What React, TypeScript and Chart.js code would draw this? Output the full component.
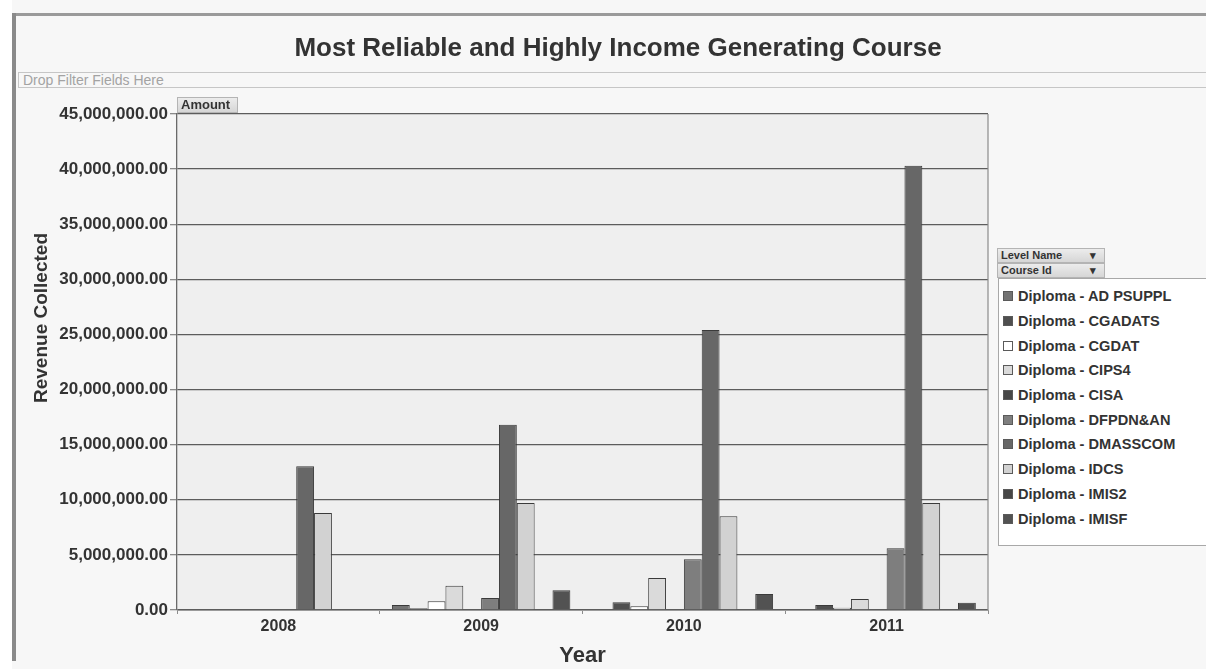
import { useEffect, useRef } from "react";
import { Chart, registerables } from "chart.js";

Chart.register(...registerables);

// Revenue per course and year
const years = ["2008", "2009", "2010", "2011"];
const courses = [
  "Diploma - AD PSUPPL",
  "Diploma - CGADATS",
  "Diploma - CGDAT",
  "Diploma - CIPS4",
  "Diploma - CISA",
  "Diploma - DFPDN&AN",
  "Diploma - DMASSCOM",
  "Diploma - IDCS",
  "Diploma - IMIS2",
  "Diploma - IMISF",
];
const adPsuppl = [0, 450000, 0, 0];
const cgadats = [0, 150000, 700000, 450000];
const cgdat = [0, 800000, 350000, 200000];
const cips4 = [0, 2200000, 2900000, 1000000];
const cisa = [0, 0, 0, 0];
const dfpdnAn = [0, 1100000, 4600000, 5600000];
const dmasscom = [13050000, 16800000, 25400000, 40300000];
const idcs = [8800000, 9700000, 8500000, 9700000];
const imis2 = [0, 0, 0, 0];
const imisf = [0, 1800000, 1450000, 650000];
const seriesValues = [adPsuppl, cgadats, cgdat, cips4, cisa, dfpdnAn, dmasscom, idcs, imis2, imisf];
const courseColors = [
  "#737373", "#4f4f4f", "#ffffff", "#dadada", "#474747",
  "#7e7e7e", "#676767", "#d2d2d2", "#464646", "#525252",
];
const yTicks = [0, 5000000, 10000000, 15000000, 20000000, 25000000, 30000000, 35000000, 40000000, 45000000];

const formatAmount = (v: number) =>
  v.toLocaleString("en-US", { minimumFractionDigits: 2, maximumFractionDigits: 2 });

const FONT = "Arial, 'Liberation Sans', sans-serif";

// Fills the plot area and outlines its right edge
const plotFrame = {
  id: "plotFrame",
  beforeDraw(chart: any) {
    const { ctx, chartArea: a } = chart;
    ctx.save();
    ctx.fillStyle = "#efefef";
    ctx.fillRect(a.left, a.top, a.right - a.left, a.bottom - a.top);
    ctx.restore();
  },
  afterDraw(chart: any) {
    const { ctx, chartArea: a } = chart;
    ctx.save();
    ctx.strokeStyle = "#8a8a8a";
    ctx.lineWidth = 1.2;
    ctx.beginPath();
    ctx.moveTo(a.right, a.top);
    ctx.lineTo(a.right, a.bottom);
    ctx.stroke();
    ctx.restore();
  },
};

const btn: any = {
  position: "absolute",
  background: "linear-gradient(#ececec, #d6d6d6)",
  border: "1px solid #b4b4b4",
  fontFamily: FONT,
  fontWeight: "bold",
  fontSize: 11,
  color: "#333",
  boxSizing: "border-box",
  lineHeight: "13px",
  paddingLeft: 3,
  paddingRight: 8,
  whiteSpace: "nowrap",
  display: "flex",
  justifyContent: "space-between",
};

export default function App() {
  const canvasRef = useRef<HTMLCanvasElement | null>(null);

  useEffect(() => {
    const canvas = canvasRef.current;
    if (!canvas) return;
    const chart = new Chart(canvas, {
      type: "bar",
      data: {
        labels: years,
        datasets: courses.map((name, i) => ({
          label: name,
          data: seriesValues[i],
          backgroundColor: courseColors[i],
          borderColor: "#3a3a3a",
          borderWidth: 1,
          categoryPercentage: 0.88,
          barPercentage: 1,
        })),
      },
      options: {
        responsive: false,
        animation: false,
        layout: { padding: { top: 114, left: 28, right: 218, bottom: 0 } },
        plugins: {
          legend: { display: false },
          title: { display: false },
          tooltip: { enabled: false },
        },
        scales: {
          x: {
            afterFit: (s: any) => { s.height = 59; },
            grid: {
              display: true,
              drawOnChartArea: false,
              offset: true,
              tickLength: 4,
              color: "#8c8c8c",
            },
            border: { display: true, color: "#9a9a9a" },
            ticks: {
              padding: 3,
              color: "#333",
              font: { family: FONT, size: 16, weight: "bold" },
            },
            title: {
              display: true,
              text: "Year",
              color: "#333",
              padding: { top: 0, bottom: 0 },
              font: { family: FONT, size: 22, weight: "bold" },
            },
          },
          y: {
            min: 0,
            max: 45000000,
            afterFit: (s: any) => { s.width = 149; },
            afterBuildTicks: (s: any) => { s.ticks = yTicks.map((v) => ({ value: v })); },
            grid: {
              color: "#5c5c5c",
              lineWidth: 1.3,
              tickLength: 7,
              tickColor: "#8a8a8a",
            },
            border: { display: true, color: "#6a6a6a", width: 1.3 },
            ticks: {
              padding: 2,
              color: "#333",
              font: { family: FONT, size: 17, weight: "bold" },
              callback: (v: any) => formatAmount(Number(v)),
            },
            title: { display: false },
          },
        },
      },
      plugins: [plotFrame],
    });
    return () => chart.destroy();
  }, []);

  return (
    <div
      style={{
        position: "absolute",
        left: 0,
        top: 0,
        width: 1206,
        height: 669,
        overflow: "hidden",
        background: "#f7f7f7",
        fontFamily: FONT,
      }}
    >
      <div style={{ position: "absolute", left: 0, top: 0, width: 12, height: 669, background: "#ffffff" }} />
      <div style={{ position: "absolute", left: 12, top: 13, width: 1194, height: 3, background: "#9a9a9a" }} />
      <div style={{ position: "absolute", left: 12, top: 13, width: 4, height: 648, background: "#8a8a8a" }} />
      <div
        style={{
          position: "absolute",
          left: 18,
          top: 72,
          width: 1200,
          height: 16,
          border: "1px solid #c6c6c6",
          boxSizing: "border-box",
          fontSize: 14,
          lineHeight: "14px",
          color: "#a3a3a3",
          paddingLeft: 4,
        }}
      >
        Drop Filter Fields Here
      </div>
      <canvas
        ref={canvasRef}
        width={1206}
        height={669}
        style={{ position: "absolute", left: 0, top: 0, width: 1206, height: 669 }}
      />
      <div
        style={{
          position: "absolute",
          left: 30,
          top: 31,
          width: 1176,
          textAlign: "center",
          fontSize: 26,
          fontWeight: "bold",
          color: "#333",
          lineHeight: "32px",
        }}
      >
        Most Reliable and Highly Income Generating Course
      </div>
      <div
        style={{
          position: "absolute",
          left: 41,
          top: 318,
          transform: "translate(-50%, -50%) rotate(-90deg)",
          fontSize: 19,
          fontWeight: "bold",
          color: "#333",
          whiteSpace: "nowrap",
        }}
      >
        Revenue Collected
      </div>
      <div style={{ ...btn, left: 177, top: 97, width: 61, height: 16, fontSize: 13, paddingRight: 0 }}>Amount</div>
      <div style={{ ...btn, left: 997, top: 248, width: 108, height: 15 }}>
        <span>Level Name</span>
        <span>▾</span>
      </div>
      <div style={{ ...btn, left: 997, top: 263, width: 108, height: 15 }}>
        <span>Course Id</span>
        <span>▾</span>
      </div>
      <div
        style={{
          position: "absolute",
          left: 998,
          top: 278,
          width: 230,
          height: 268,
          background: "#ffffff",
          border: "1px solid #a8a8a8",
          boxSizing: "border-box",
          paddingTop: 5,
        }}
      >
        {courses.map((name, i) => (
          <div
            key={name}
            style={{
              height: 24.7,
              display: "flex",
              alignItems: "center",
              whiteSpace: "nowrap",
              fontSize: 14.6,
              fontWeight: "bold",
              color: "#333",
            }}
          >
            <span
              style={{
                display: "inline-block",
                width: 10,
                height: 10,
                marginLeft: 4,
                marginRight: 5,
                background: courseColors[i],
                border: "1px solid #5a5a5a",
                boxSizing: "border-box",
              }}
            />
            {name}
          </div>
        ))}
      </div>
    </div>
  );
}
